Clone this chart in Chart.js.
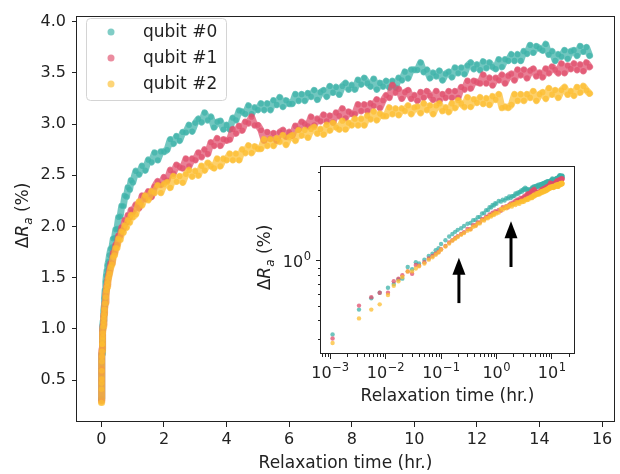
<!DOCTYPE html>
<html>
<head>
<meta charset="utf-8">
<script src="https://cdn.jsdelivr.net/npm/chart.js@4.4.0/dist/chart.umd.min.js"></script>
<style>
  html, body { margin: 0; padding: 0; background: #fff; }
  #wrap { position: relative; width: 620px; height: 474px; }
  #main { position: absolute; left: 0; top: 0; }
  #inset { position: absolute; left: 250px; top: 150px; }
</style>
</head>
<body>
<div id="wrap">
  <canvas id="main" width="620" height="474"></canvas>
  <canvas id="inset" width="340" height="260"></canvas>
</div>
<script>
// relaxation time (hr.) of each sample
const hours = [
  0.0011, 0.0033, 0.0055, 0.0078, 0.011, 0.014, 0.017, 0.02, 0.025, 0.03,
  0.035, 0.04, 0.05, 0.06, 0.07, 0.08, 0.09, 0.1, 0.12, 0.14,
  0.16, 0.18, 0.2, 0.23, 0.26, 0.3, 0.34, 0.38, 0.42, 0.46,
  0.5, 0.55, 0.6, 0.65, 0.7, 0.75, 0.8, 0.85, 0.9, 0.95, 1.0,
  1.1, 1.2, 1.3, 1.4, 1.5, 1.6, 1.7, 1.8, 1.9, 2.0,
  2.1, 2.2, 2.3, 2.4, 2.5, 2.6, 2.7, 2.8, 2.9, 3.0,
  3.1, 3.2, 3.3, 3.4, 3.5, 3.6, 3.7, 3.8, 3.9, 4.0,
  4.1, 4.2, 4.3, 4.4, 4.5, 4.6, 4.7, 4.8, 4.9, 5.0,
  5.1, 5.2, 5.3, 5.4, 5.5, 5.6, 5.7, 5.8, 5.9, 6.0,
  6.1, 6.2, 6.3, 6.4, 6.5, 6.6, 6.7, 6.8, 6.9, 7.0,
  7.1, 7.2, 7.3, 7.4, 7.5, 7.6, 7.7, 7.8, 7.9, 8.0,
  8.1, 8.2, 8.3, 8.4, 8.5, 8.6, 8.7, 8.8, 8.9, 9.0,
  9.1, 9.2, 9.3, 9.4, 9.5, 9.6, 9.7, 9.8, 9.9, 10.0,
  10.1, 10.2, 10.3, 10.4, 10.5, 10.6, 10.7, 10.8, 10.9, 11.0,
  11.1, 11.2, 11.3, 11.4, 11.5, 11.6, 11.7, 11.8, 11.9, 12.0,
  12.1, 12.2, 12.3, 12.4, 12.5, 12.6, 12.7, 12.8, 12.9, 13.0,
  13.1, 13.2, 13.3, 13.4, 13.5, 13.6, 13.7, 13.8, 13.9, 14.0,
  14.1, 14.2, 14.3, 14.4, 14.5, 14.6, 14.7, 14.8, 14.9, 15.0,
  15.1, 15.2, 15.3, 15.4, 15.5, 15.6
]

// ΔRa (%) per qubit, same order as hours
const qubit0 = [
  0.32, 0.47, 0.56, 0.61, 0.66, 0.70, 0.75, 0.76, 0.91, 0.88,
  0.98, 0.96, 1.02, 1.08, 1.12, 1.18, 1.22, 1.30, 1.38, 1.46,
  1.52, 1.57, 1.62, 1.66, 1.72, 1.78, 1.80, 1.88, 1.89, 1.97,
  1.98, 2.09, 2.10, 2.20, 2.20, 2.30, 2.29, 2.38, 2.36, 2.45, 2.43,
  2.54, 2.51, 2.59, 2.55, 2.65, 2.63, 2.72, 2.65, 2.73, 2.73,
  2.75, 2.85, 2.81, 2.88, 2.84, 2.92, 2.92, 2.99, 2.93, 3.01,
  3.05, 3.02, 3.11, 3.04, 3.07, 2.97, 3.02, 3.03, 2.95, 2.99,
  2.95, 3.06, 3.04, 3.13, 3.12, 3.10, 3.18, 3.10, 3.16, 3.14,
  3.20, 3.14, 3.20, 3.14, 3.23, 3.19, 3.26, 3.17, 3.23, 3.20,
  3.20, 3.29, 3.23, 3.29, 3.23, 3.30, 3.27, 3.33, 3.24, 3.31,
  3.33, 3.27, 3.37, 3.31, 3.36, 3.29, 3.37, 3.40, 3.34, 3.38,
  3.34, 3.43, 3.39, 3.45, 3.40, 3.37, 3.44, 3.34, 3.40, 3.37,
  3.42, 3.36, 3.42, 3.36, 3.45, 3.43, 3.51, 3.45, 3.53, 3.53,
  3.53, 3.60, 3.51, 3.53, 3.45, 3.50, 3.47, 3.52, 3.43, 3.49,
  3.51, 3.46, 3.55, 3.50, 3.55, 3.49, 3.57, 3.60, 3.54, 3.58,
  3.53, 3.61, 3.55, 3.60, 3.56, 3.54, 3.63, 3.56, 3.63, 3.62,
  3.68, 3.62, 3.68, 3.62, 3.71, 3.69, 3.77, 3.70, 3.76, 3.74,
  3.72, 3.78, 3.68, 3.71, 3.62, 3.68, 3.66, 3.72, 3.64, 3.71,
  3.72, 3.67, 3.76, 3.71, 3.75, 3.67
]
const qubit1 = [
  0.30, 0.50, 0.57, 0.61, 0.61, 0.73, 0.76, 0.80, 0.85, 0.82,
  0.94, 0.93, 0.98, 1.04, 1.08, 1.12, 1.15, 1.20, 1.26, 1.33,
  1.38, 1.43, 1.47, 1.52, 1.56, 1.64, 1.64, 1.74, 1.74, 1.82,
  1.82, 1.91, 1.91, 1.99, 1.98, 2.06, 2.04, 2.11, 2.09, 2.16, 2.14,
  2.21, 2.18, 2.30, 2.27, 2.34, 2.29, 2.39, 2.44, 2.41, 2.48,
  2.45, 2.55, 2.52, 2.60, 2.58, 2.57, 2.66, 2.59, 2.66, 2.65,
  2.72, 2.68, 2.75, 2.71, 2.82, 2.79, 2.86, 2.79, 2.85, 2.84,
  2.85, 2.95, 2.91, 2.98, 2.94, 3.02, 3.01, 3.07, 2.99, 2.99,
  2.94, 2.84, 2.92, 2.86, 2.91, 2.84, 2.92, 2.94, 2.88, 2.92,
  2.89, 2.98, 2.95, 3.02, 3.00, 2.98, 3.07, 2.99, 3.05, 3.03,
  3.09, 3.03, 3.08, 3.02, 3.11, 3.08, 3.15, 3.06, 3.12, 3.10,
  3.10, 3.19, 3.13, 3.19, 3.13, 3.20, 3.18, 3.24, 3.16, 3.23,
  3.28, 3.26, 3.38, 3.31, 3.34, 3.25, 3.31, 3.33, 3.25, 3.28,
  3.23, 3.31, 3.26, 3.32, 3.28, 3.24, 3.32, 3.23, 3.29, 3.26,
  3.32, 3.26, 3.32, 3.26, 3.36, 3.34, 3.42, 3.35, 3.42, 3.41,
  3.40, 3.48, 3.40, 3.45, 3.38, 3.45, 3.43, 3.48, 3.40, 3.47,
  3.49, 3.43, 3.53, 3.48, 3.53, 3.45, 3.52, 3.54, 3.47, 3.50,
  3.46, 3.54, 3.50, 3.56, 3.53, 3.50, 3.59, 3.50, 3.57, 3.54,
  3.59, 3.53, 3.58, 3.52, 3.60, 3.56
]
const qubit2 = [
  0.28, 0.41, 0.47, 0.51, 0.59, 0.68, 0.73, 0.78, 0.85, 0.85,
  0.89, 0.92, 0.96, 1.02, 1.06, 1.10, 1.14, 1.19, 1.25, 1.31,
  1.37, 1.41, 1.45, 1.50, 1.54, 1.60, 1.63, 1.70, 1.72, 1.79,
  1.79, 1.88, 1.87, 1.95, 1.94, 2.01, 1.99, 2.06, 2.04, 2.11, 2.09,
  2.12, 2.24, 2.21, 2.30, 2.26, 2.34, 2.33, 2.40, 2.33, 2.41,
  2.43, 2.38, 2.49, 2.44, 2.49, 2.43, 2.51, 2.55, 2.49, 2.54,
  2.50, 2.59, 2.55, 2.62, 2.59, 2.57, 2.66, 2.59, 2.66, 2.65,
  2.71, 2.65, 2.71, 2.65, 2.75, 2.72, 2.79, 2.72, 2.78, 2.76,
  2.76, 2.85, 2.79, 2.85, 2.79, 2.86, 2.83, 2.89, 2.80, 2.87,
  2.89, 2.84, 2.94, 2.89, 2.94, 2.87, 2.95, 2.97, 2.91, 2.95,
  2.90, 2.99, 2.94, 3.01, 2.97, 2.95, 3.03, 2.95, 3.01, 2.99,
  3.05, 2.99, 3.05, 2.99, 3.08, 3.05, 3.12, 3.04, 3.10, 3.08,
  3.08, 3.16, 3.10, 3.15, 3.09, 3.15, 3.13, 3.18, 3.10, 3.16,
  3.17, 3.11, 3.20, 3.14, 3.18, 3.10, 3.18, 3.20, 3.13, 3.16,
  3.12, 3.20, 3.16, 3.23, 3.20, 3.17, 3.26, 3.17, 3.24, 3.21,
  3.26, 3.20, 3.25, 3.19, 3.27, 3.24, 3.29, 3.16, 3.17, 3.16,
  3.19, 3.29, 3.23, 3.29, 3.23, 3.29, 3.26, 3.32, 3.23, 3.29,
  3.31, 3.25, 3.35, 3.29, 3.33, 3.26, 3.33, 3.36, 3.29, 3.32,
  3.28, 3.36, 3.31, 3.37, 3.33, 3.30
]

const seriesNames = ['qubit #0', 'qubit #1', 'qubit #2']
const seriesRGB = ['60,178,168', '224,78,108', '252,190,48']

const xTicks = [0, 2, 4, 6, 8, 10, 12, 14, 16]
const yTicks = [0.5, 1.0, 1.5, 2.0, 2.5, 3.0, 3.5, 4.0]
// inset log ticks: base and exponent of each label
const insetXTicks = [0.001, 0.01, 0.1, 1, 10]
const insetXExps = ['\u22123', '\u22122', '\u22121', '0', '1']
const insetYTicks = [1]
const insetYExps = ['0']

// arrows in the inset: [time, tail value, tip value]
const arrows = [[0.21, 0.52, 1.05], [1.83, 0.91, 1.85]]

const INK = '#222'
const FAMILY = '"DejaVu Sans", sans-serif'
const tickFont = { family: FAMILY, size: 16 }
const titleFont = { family: FAMILY, size: 17 }

const allSeries = [qubit0, qubit1, qubit2]
function points(vals) {
  return hours.map((t, i) => ({ x: t, y: vals[i] }))
}

// box round the plot area
const frame = {
  id: 'frame',
  beforeDraw(chart) {
    const a = chart.chartArea
    chart.ctx.save()
    chart.ctx.fillStyle = '#fff'
    chart.ctx.fillRect(a.left, a.top, a.right - a.left, a.bottom - a.top)
    chart.ctx.restore()
  },
  afterDraw(chart) {
    const a = chart.chartArea, ctx = chart.ctx
    ctx.save()
    ctx.strokeStyle = INK
    ctx.lineWidth = 1
    ctx.strokeRect(Math.round(a.left) - 0.5, Math.round(a.top) + 0.5,
      Math.round(a.right - a.left) + 1, Math.round(a.bottom - a.top) - 1)
    ctx.restore()
  }
}

// "ΔR_a (%)" rotated, with italic R and subscript a
function yTitle(cx, cy) {
  return {
    id: 'ytitle',
    afterDraw(chart) {
      const ctx = chart.ctx, s = 17
      const parts = [
        ['\u0394', `${s}px ${FAMILY}`, 0],
        ['R', `italic ${s}px ${FAMILY}`, 0],
        ['a', `italic ${Math.round(s * 0.7)}px ${FAMILY}`, s * 0.25],
        [' (%)', `${s}px ${FAMILY}`, 0]
      ]
      ctx.save()
      ctx.translate(cx, cy)
      ctx.rotate(-Math.PI / 2)
      ctx.fillStyle = INK
      ctx.textBaseline = 'alphabetic'
      let w = 0
      parts.forEach(p => { ctx.font = p[1]; w += ctx.measureText(p[0]).width })
      let x = -w / 2
      parts.forEach(p => {
        ctx.font = p[1]
        ctx.fillText(p[0], x, s * 0.36 + p[2])
        x += ctx.measureText(p[0]).width
      })
      ctx.restore()
    }
  }
}

const legendBox = {
  id: 'legendBox',
  afterDraw(chart) {
    const ctx = chart.ctx
    const x0 = 86, y0 = 18, w = 140, h = 82, r = 4
    ctx.save()
    ctx.beginPath()
    ctx.roundRect(x0 + 0.5, y0 + 0.5, w, h, r)
    ctx.fillStyle = 'rgba(255,255,255,0.8)'
    ctx.fill()
    ctx.strokeStyle = '#d4d4d4'
    ctx.lineWidth = 1
    ctx.stroke()
    ctx.font = `17px ${FAMILY}`
    ctx.textBaseline = 'middle'
    seriesNames.forEach((name, i) => {
      const y = 32 + i * 26
      ctx.beginPath()
      ctx.arc(111, y, 3.5, 0, Math.PI * 2)
      ctx.fillStyle = `rgba(${seriesRGB[i]},0.65)`
      ctx.fill()
      ctx.fillStyle = INK
      ctx.fillText(name, 143, y + 1)
    })
    ctx.restore()
  }
}

new Chart(document.getElementById('main'), {
  type: 'scatter',
  data: {
    datasets: allSeries.map((vals, i) => ({
      label: seriesNames[i],
      data: points(vals),
      showLine: true,
      borderColor: `rgba(${seriesRGB[i]},0.72)`,
      borderWidth: 7,
      borderJoinStyle: 'round',
      borderCapStyle: 'round',
      pointRadius: 2.8,
      pointBorderWidth: 0,
      pointBackgroundColor: `rgba(${seriesRGB[i]},0.7)`,
      order: 3 - i
    }))
  },
  options: {
    responsive: false,
    animation: false,
    devicePixelRatio: 1,
    layout: { padding: { left: 0, top: 9, right: 6, bottom: 0 } },
    plugins: { legend: { display: false }, tooltip: { enabled: false } },
    scales: {
      x: {
        type: 'linear', min: -0.78, max: 16.38,
        afterBuildTicks: s => { s.ticks = xTicks.map(v => ({ value: v })) },
        afterFit: s => { s.height = 52 },
        border: { display: false },
        grid: { drawOnChartArea: false, tickLength: 5, color: INK },
        ticks: { color: INK, font: tickFont, padding: 3, maxRotation: 0, autoSkip: false },
        title: { display: true, text: 'Relaxation time (hr.)', color: INK, font: titleFont, padding: 0 }
      },
      y: {
        type: 'linear', min: 0.09, max: 4.06,
        afterBuildTicks: s => { s.ticks = yTicks.map(v => ({ value: v })) },
        afterFit: s => { s.width = 77 },
        border: { display: false },
        grid: { drawOnChartArea: false, tickLength: 5, color: INK },
        ticks: { color: INK, font: tickFont, padding: 6, autoSkip: false, callback: v => v.toFixed(1) }
      }
    }
  },
  plugins: [frame, legendBox, yTitle(22, 215.5)]
})

// short minor ticks on the log axes of the inset
const minorTicks = {
  id: 'minorTicks',
  afterDraw(chart) {
    const ctx = chart.ctx, a = chart.chartArea
    const xs = chart.scales.x, ys = chart.scales.y
    ctx.save()
    ctx.strokeStyle = INK
    ctx.lineWidth = 1
    ctx.beginPath()
    for (let k = -4; k <= 1; k++) {
      for (let m = 2; m <= 9; m++) {
        const v = m * Math.pow(10, k)
        if (v > xs.min && v < xs.max) {
          const px = Math.round(xs.getPixelForValue(v)) + 0.5
          ctx.moveTo(px, a.bottom)
          ctx.lineTo(px, a.bottom + 3)
        }
        if (v > ys.min && v < ys.max) {
          const py = Math.round(ys.getPixelForValue(v)) + 0.5
          ctx.moveTo(a.left, py)
          ctx.lineTo(a.left - 3, py)
        }
      }
    }
    ctx.stroke()
    ctx.restore()
  }
}

// "10" with a raised exponent, like matplotlib's log labels
function powerLabel(ctx, exp, x, y, align) {
  const big = `16px ${FAMILY}`, small = `11.5px ${FAMILY}`
  ctx.font = big
  const wb = ctx.measureText('10').width
  ctx.font = small
  const ws = ctx.measureText(exp).width
  const w = wb + ws + 0.5
  let x0 = align === 'right' ? x - w : x - w / 2
  ctx.font = big
  ctx.fillText('10', x0, y)
  ctx.font = small
  ctx.fillText(exp, x0 + wb + 0.5, y - 7)
}

const logLabels = {
  id: 'logLabels',
  afterDraw(chart) {
    const ctx = chart.ctx, a = chart.chartArea
    const xs = chart.scales.x, ys = chart.scales.y
    ctx.save()
    ctx.fillStyle = INK
    ctx.textBaseline = 'alphabetic'
    insetXTicks.forEach((v, i) => {
      powerLabel(ctx, insetXExps[i], xs.getPixelForValue(v), a.bottom + 24, 'center')
    })
    insetYTicks.forEach((v, i) => {
      powerLabel(ctx, insetYExps[i], a.left - 10, ys.getPixelForValue(v) + 6, 'right')
    })
    ctx.restore()
  }
}

const arrowMarks = {
  id: 'arrowMarks',
  afterDatasetsDraw(chart) {
    const ctx = chart.ctx, xs = chart.scales.x, ys = chart.scales.y
    ctx.save()
    ctx.fillStyle = '#000'
    ctx.strokeStyle = '#000'
    arrows.forEach(([t, from, to]) => {
      const px = xs.getPixelForValue(t)
      const yTail = ys.getPixelForValue(from)
      const yTip = ys.getPixelForValue(to)
      const head = 17, half = 6.5
      ctx.lineWidth = 3
      ctx.beginPath()
      ctx.moveTo(px, yTail)
      ctx.lineTo(px, yTip + head - 1)
      ctx.stroke()
      ctx.beginPath()
      ctx.moveTo(px, yTip)
      ctx.lineTo(px - half, yTip + head)
      ctx.lineTo(px + half, yTip + head)
      ctx.closePath()
      ctx.fill()
    })
    ctx.restore()
  }
}

new Chart(document.getElementById('inset'), {
  type: 'scatter',
  data: {
    datasets: allSeries.map((vals, i) => ({
      label: seriesNames[i],
      data: points(vals),
      pointRadius: 2.2,
      pointBorderWidth: 0,
      pointBackgroundColor: `rgba(${seriesRGB[i]},0.75)`,
      order: 3 - i
    }))
  },
  options: {
    responsive: false,
    animation: false,
    devicePixelRatio: 1,
    layout: { padding: { left: 0, top: 11, right: 16, bottom: 0 } },
    plugins: { legend: { display: false }, tooltip: { enabled: false } },
    scales: {
      x: {
        type: 'logarithmic', min: 0.00068, max: 25.1,
        afterBuildTicks: s => { s.ticks = insetXTicks.map(v => ({ value: v })) },
        afterFit: s => { s.height = 56 },
        border: { display: false },
        grid: { drawOnChartArea: false, tickLength: 5, color: INK },
        ticks: { color: INK, font: tickFont, padding: 3, maxRotation: 0, autoSkip: false, callback: () => '' },
        title: { display: true, text: 'Relaxation time (hr.)', color: INK, font: titleFont, padding: { top: 0, bottom: 3 } }
      },
      y: {
        type: 'logarithmic', min: 0.236, max: 4.39,
        afterBuildTicks: s => { s.ticks = insetYTicks.map(v => ({ value: v })) },
        afterFit: s => { s.width = 71 },
        border: { display: false },
        grid: { drawOnChartArea: false, tickLength: 5, color: INK },
        ticks: { color: INK, font: tickFont, padding: 6, autoSkip: false, callback: () => '' }
      }
    }
  },
  plugins: [frame, minorTicks, logLabels, arrowMarks, yTitle(14, 107.5)]
})
</script>
</body>
</html>
